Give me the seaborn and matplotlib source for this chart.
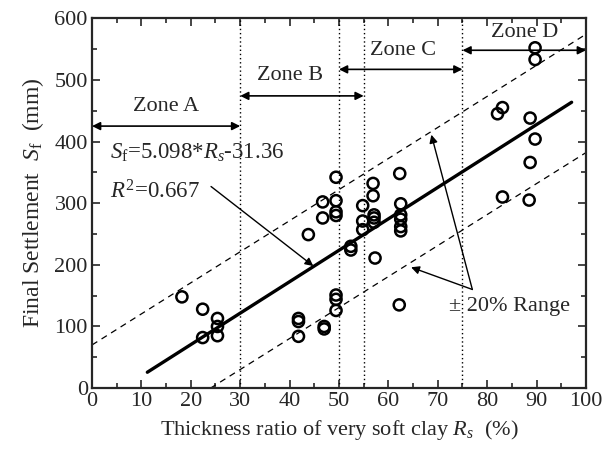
import matplotlib
matplotlib.use("Agg")
import matplotlib.pyplot as plt
import seaborn as sns
import numpy as np
import pandas as pd

# thickness ratio Rs (%) and final settlement Sf (mm)
rs = [18.2, 22.4, 22.4, 25.4, 25.4, 25.4,
      41.8, 41.8, 41.8, 43.8, 47.0, 47.0, 46.7, 46.7, 49.4, 49.4, 49.4, 49.4,
      49.4, 49.4, 49.4, 52.4, 52.4,
      54.8, 54.8, 54.8, 56.9, 56.9, 57.1, 57.1, 57.1, 57.3, 62.3, 62.5, 62.5,
      62.5, 62.5, 62.5, 62.2,
      82.1, 83.1, 83.1, 88.7, 88.7, 88.5, 89.7, 89.7, 89.7]
sf = [148, 128, 82, 113, 100, 85,
      113, 108, 84, 249, 100, 96, 302, 276, 342, 304, 286, 280,
      151, 144, 126, 230, 224,
      296, 271, 257, 332, 312, 281, 276, 269, 211, 348, 299, 281,
      274, 262, 255, 135,
      445, 455, 310, 438, 366, 305, 404, 552, 533]

# fitted line Sf = 5.098*Rs - 31.36
slope, intercept = 5.098, -31.36
fit_x = [11.2, 97.1]
# +/- range lines (endpoints)
upper_x, upper_y = [0, 100], [70, 574]
lower_x, lower_y = [24, 100], [0, 382]
zone_bounds = [30, 50, 55, 75]

df = pd.DataFrame({"Rs": rs, "Sf": sf})
fit = pd.DataFrame({"Rs": fit_x, "Sf": [slope * x + intercept for x in fit_x]})
up = pd.DataFrame({"Rs": upper_x, "Sf": upper_y})
lo = pd.DataFrame({"Rs": lower_x, "Sf": lower_y})

sns.set_style("ticks")
plt.rcParams["font.family"] = ["Liberation Serif", "DejaVu Serif"]
plt.rcParams["mathtext.fontset"] = "custom"
plt.rcParams["mathtext.rm"] = "Liberation Serif"
plt.rcParams["mathtext.it"] = "Liberation Serif:italic"
plt.rcParams["font.size"] = 16

fig = plt.figure(figsize=(6.11, 4.55), dpi=100)
ax = fig.add_axes([0.1506, 0.147, 0.8084, 0.813])

for b in zone_bounds:
    ax.axvline(b, color="black", ls=(0, (1, 2)), lw=1, zorder=1)

sns.lineplot(data=up, x="Rs", y="Sf", ax=ax, color="black", lw=0.9, ls=(0, (5, 4)))
sns.lineplot(data=lo, x="Rs", y="Sf", ax=ax, color="black", lw=0.9, ls=(0, (5, 4)))
sns.lineplot(data=fit, x="Rs", y="Sf", ax=ax, color="black", lw=2.4)
sns.scatterplot(data=df, x="Rs", y="Sf", ax=ax, marker="o", s=64,
                facecolor="none", edgecolor="black", linewidth=1.8, zorder=5)

# zone arrows
zones = [("Zone A", 0, 30, 425, 15, 457),
         ("Zone B", 30, 55, 474, 40, 507),
         ("Zone C", 50, 75, 517, 63, 547),
         ("Zone D", 75, 100, 548, 87.5, 577)]
for name, x0, x1, y, tx, ty in zones:
    ax.annotate("", xy=(x0, y), xytext=(x1, y),
                arrowprops=dict(arrowstyle="<|-|>", color="black", lw=1.2,
                                mutation_scale=12, shrinkA=0, shrinkB=0))
    ax.text(tx, ty, name, ha="center", va="center", fontsize=16)

ax.text(3.6, 382, r"$S_\mathrm{f}$=5.098*$R_s$-31.36", ha="left", va="center", fontsize=16.5)
ax.text(3.6, 318, r"$R^2$=0.667", ha="left", va="center", fontsize=16.5)
ax.annotate("", xy=(44.8, 198), xytext=(24.1, 327),
            arrowprops=dict(arrowstyle="-|>", color="black", lw=1,
                            mutation_scale=12, shrinkA=0, shrinkB=0))

ax.text(84.5, 132, "± 20% Range", ha="center", va="center", fontsize=16)
for tip in [(68.7, 411), (64.6, 196)]:
    ax.annotate("", xy=tip, xytext=(77, 160),
                arrowprops=dict(arrowstyle="-|>", color="black", lw=1,
                                mutation_scale=12, shrinkA=0, shrinkB=0))

ax.set_xlim(0, 100)
ax.set_ylim(0, 600)
ax.set_xticks(np.arange(0, 101, 10))
ax.set_yticks(np.arange(0, 601, 100))
ax.set_xticks(np.arange(0, 101, 5), minor=True)
ax.set_yticks(np.arange(0, 601, 50), minor=True)
ax.tick_params(which="both", direction="in", top=True, right=True, width=1.2)
ax.tick_params(which="major", length=6, labelsize=16, pad=3)
ax.tick_params(which="minor", length=3.5)
for s in ax.spines.values():
    s.set_linewidth(1.6)

ax.set_xlabel(r"Thickness ratio of very soft clay $R_s$  (%)", fontsize=16, labelpad=5)
ax.set_ylabel(r"Final Settlement  $S_\mathrm{f}$  (mm)", fontsize=17, labelpad=6)

fig.savefig("out.png", dpi=100)
